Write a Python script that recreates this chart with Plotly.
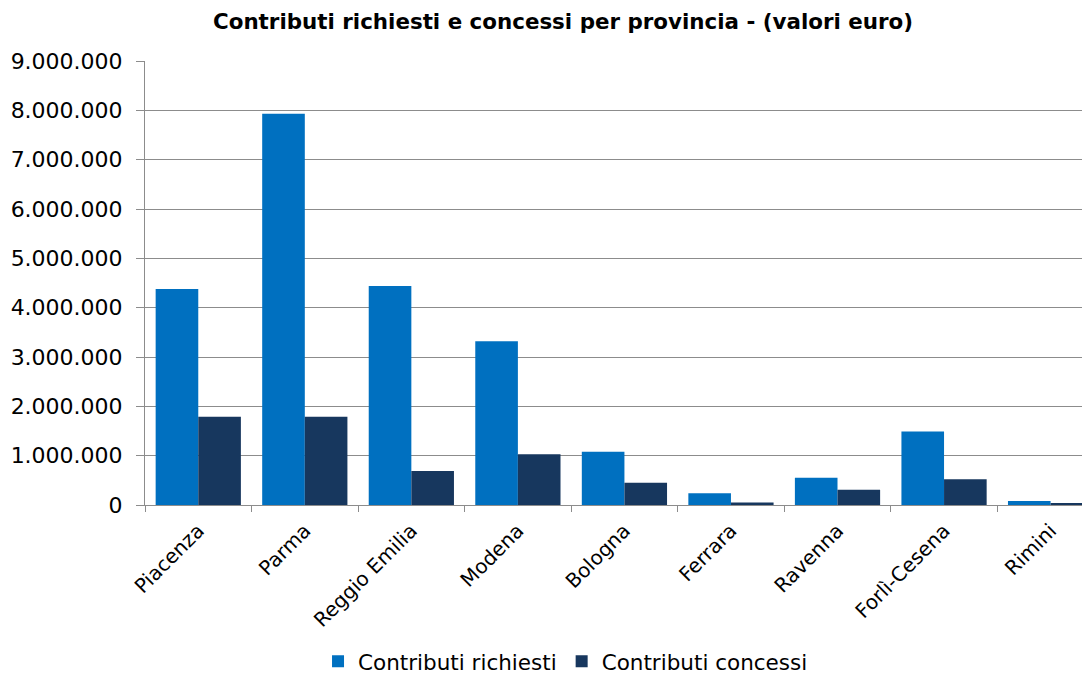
import plotly.graph_objects as go

province = ["Piacenza", "Parma", "Reggio Emilia", "Modena", "Bologna",
            "Ferrara", "Ravenna", "Forlì-Cesena", "Rimini"]
richiesti = [4380000, 7930000, 4440000, 3320000, 1080000, 240000, 550000, 1490000, 80000]
concessi = [1790000, 1790000, 690000, 1030000, 450000, 50000, 310000, 520000, 25000]

y_ticks = [0, 1000000, 2000000, 3000000, 4000000, 5000000, 6000000, 7000000, 8000000, 9000000]
y_labels = ["0", "1.000.000", "2.000.000", "3.000.000", "4.000.000",
            "5.000.000", "6.000.000", "7.000.000", "8.000.000", "9.000.000"]

font = "DejaVu Sans, Verdana, sans-serif"
grid = "#8c8c8c"

fig = go.Figure()
fig.add_trace(go.Bar(x=province, y=richiesti, name="Contributi richiesti",
                     marker=dict(color="#0070C0", line=dict(width=0))))
fig.add_trace(go.Bar(x=province, y=concessi, name="Contributi concessi",
                     marker=dict(color="#17375E", line=dict(width=0))))

# page body has an 8px margin, so the figure is a bit smaller than the window
fig.update_layout(
    width=1082,
    height=666,
    barmode="group",
    bargap=0.2,
    bargroupgap=0,
    plot_bgcolor="white",
    paper_bgcolor="white",
    margin=dict(l=137, r=0, t=53, b=169, autoexpand=False),
    font=dict(family=font, color="#000000"),
    title=dict(text="<b>Contributi richiesti e concessi per provincia - (valori euro)</b>",
               font=dict(size=21.4, family=font, color="#000000"),
               x=555 / 1082, xref="container", xanchor="center",
               y=1 - 14 / 666, yref="container", yanchor="middle"),
    legend=dict(orientation="h", x=0.445, xanchor="center", y=-0.352, yanchor="middle",
                font=dict(size=21.5), itemwidth=30, tracegroupgap=0),
    showlegend=True,
)

# the original chart is cut slightly at the right edge
fig.update_xaxes(
    type="category",
    range=[-0.5, 8.37],
    tickangle=-45,
    tickfont=dict(size=20),
    ticklabelstandoff=5,
    showline=True, linecolor=grid, linewidth=1,
    ticks="outside", tickson="boundaries", ticklen=6, tickcolor=grid,
    showgrid=False,
    automargin=False,
)
fig.update_yaxes(
    range=[0, 9000000],
    tickvals=y_ticks,
    ticktext=y_labels,
    tickfont=dict(size=22),
    showline=True, linecolor=grid, linewidth=1,
    ticks="outside", ticklen=8, tickcolor=grid,
    ticklabelstandoff=9,
    showgrid=True, gridcolor=grid, gridwidth=1,
    zeroline=False,
    automargin=False,
)

fig.write_html("out.html")
